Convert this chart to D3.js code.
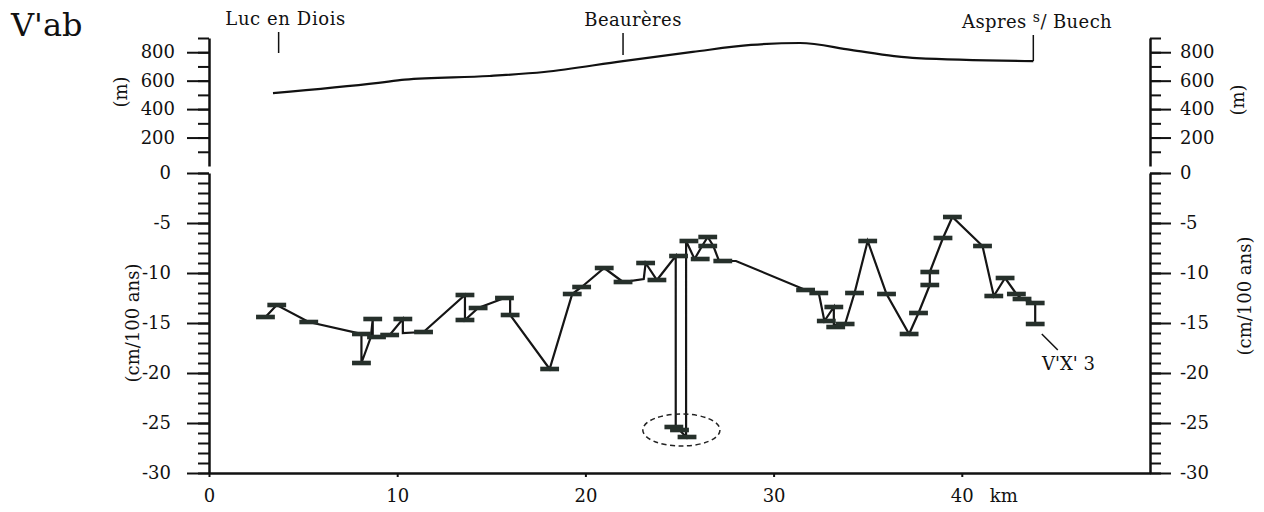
<!DOCTYPE html>
<html><head><meta charset="utf-8">
<script src="https://cdn.jsdelivr.net/npm/d3@7"></script>
<style>
html,body{margin:0;padding:0;background:#fff;}
svg{display:block;}
text{font-family:"DejaVu Serif",serif;fill:#111;}
</style></head>
<body>
<svg id="c" width="1264" height="512"></svg>
<script>
// ---- data ----
const elevKm = [3.4, 9.0, 10.4, 14.9, 17.8, 22.0, 25.7, 28.8, 31.4, 34.1, 36.4, 37.6, 43.8];
const elevM  = [513, 584, 607, 633, 661, 738, 802, 851, 865, 816, 773, 759, 738];

const townName = ["Luc en Diois", "Beaurères", "Aspres"];
const townKm   = [3.7, 22.0, 43.8];

const pathKm  = [3.0, 3.6, 5.3, 8.1, 8.1, 8.6, 8.7, 8.7, 9.6, 10.3, 10.3, 11.4, 13.6, 13.6, 14.3, 15.7, 16.0, 16.0, 18.1, 19.3, 19.8, 21.0, 22.0, 23.1, 23.2, 23.8, 24.8, 24.8, 25.0, 25.35, 25.35, 25.8, 26.2, 26.5, 26.8, 27.1, 28.0, 31.7, 32.4, 32.7, 33.2, 33.2, 33.8, 34.3, 35.0, 36.0, 37.2, 37.7, 38.3, 38.3, 39.0, 39.5, 41.1, 41.7, 42.3, 42.9, 43.2, 43.9, 43.9];
const pathVal = [-14.4, -13.2, -14.9, -16.1, -19.0, -16.4, -14.6, -16.4, -16.2, -14.6, -16.0, -15.9, -12.2, -14.7, -13.5, -12.5, -12.5, -14.2, -19.6, -12.1, -11.4, -9.5, -10.9, -10.6, -9.0, -10.7, -8.3, -25.4, -25.7, -26.4, -6.8, -8.6, -7.3, -6.4, -7.3, -8.8, -8.8, -11.7, -12.0, -14.8, -13.4, -15.2, -15.1, -12.0, -6.8, -12.1, -16.1, -14.0, -11.2, -9.9, -6.5, -4.4, -7.3, -12.3, -10.5, -12.1, -12.6, -13.0, -15.1];

const capKm  = [3.0, 3.6, 5.3, 8.1, 8.1, 8.7, 8.9, 9.6, 10.3, 11.4, 13.6, 13.6, 14.3, 15.7, 16.0, 18.1, 19.3, 19.8, 21.0, 22.0, 23.2, 23.8, 24.95, 24.7, 25.0, 25.4, 25.5, 26.5, 26.5, 26.1, 27.3, 31.7, 32.4, 32.8, 33.2, 33.3, 33.8, 34.3, 35.0, 36.0, 37.2, 37.7, 38.3, 38.3, 39.0, 39.5, 41.1, 41.7, 42.3, 42.9, 43.2, 43.9, 43.9];
const capVal = [-14.4, -13.2, -14.9, -16.1, -19.0, -14.6, -16.4, -16.2, -14.6, -15.9, -12.2, -14.7, -13.5, -12.5, -14.2, -19.6, -12.1, -11.4, -9.5, -10.9, -9.0, -10.7, -8.3, -25.4, -25.7, -26.4, -6.8, -6.4, -7.3, -8.6, -8.8, -11.7, -12.0, -14.8, -13.4, -15.4, -15.1, -12.0, -6.8, -12.1, -16.1, -14.0, -11.2, -9.9, -6.5, -4.4, -7.3, -12.3, -10.5, -12.1, -12.6, -13.0, -15.1];

const elevMinor = [100, 200, 300, 400, 500, 600, 700, 800, 900];
const elevMajor = [200, 400, 600, 800];
const velMinor = d3.range(-30, 1, 1);
const velMajor = [-30, -25, -20, -15, -10, -5, 0];
const kmTicks = [0, 10, 20, 30, 40];

// ---- scales ----
const svg = d3.select("#c");
const x  = d3.scaleLinear().domain([0, 50]).range([209, 1150]);
const yv = d3.scaleLinear().domain([-30, 0]).range([473, 173]);
const ye = d3.scaleLinear().domain([0, 900]).range([166, 38]);

const FS = 18;
function styleAxis(g, w) {
  g.selectAll("path.domain").attr("stroke", "#111").attr("stroke-width", w);
  g.selectAll(".tick line").attr("stroke", "#111").attr("stroke-width", 2);
  g.selectAll("text").attr("font-family", "DejaVu Serif").attr("font-size", FS).attr("fill", "#111");
}

// left axes
const gLe1 = svg.append("g").attr("transform", `translate(${x(0)},0)`)
  .call(d3.axisLeft(ye).tickValues(elevMinor).tickSize(11).tickSizeOuter(0).tickFormat(""));
styleAxis(gLe1, 2.5);
const gLe2 = svg.append("g").attr("transform", `translate(${x(0)},0)`)
  .call(d3.axisLeft(ye).tickValues(elevMajor).tickSize(22).tickPadding(12).tickFormat(d => String(d)));
gLe2.select("path.domain").remove(); styleAxis(gLe2, 2.5);

const gLv1 = svg.append("g").attr("transform", `translate(${x(0)},0)`)
  .call(d3.axisLeft(yv).tickValues(velMinor).tickSize(11).tickSizeOuter(0).tickFormat(""));
styleAxis(gLv1, 2.5);
const gLv2 = svg.append("g").attr("transform", `translate(${x(0)},0)`)
  .call(d3.axisLeft(yv).tickValues(velMajor).tickSize(22).tickPadding(16).tickFormat(d => String(d)));
gLv2.select("path.domain").remove(); styleAxis(gLv2, 2.5);

// right axes
const gRe1 = svg.append("g").attr("transform", `translate(${x(50)},0)`)
  .call(d3.axisRight(ye).tickValues(elevMinor).tickSize(11).tickSizeOuter(0).tickFormat(""));
styleAxis(gRe1, 2.5);
const gRe2 = svg.append("g").attr("transform", `translate(${x(50)},0)`)
  .call(d3.axisRight(ye).tickValues(elevMajor).tickSize(21).tickPadding(9).tickFormat(d => String(d)));
gRe2.select("path.domain").remove(); styleAxis(gRe2, 2.5);

const gRv1 = svg.append("g").attr("transform", `translate(${x(50)},0)`)
  .call(d3.axisRight(yv).tickValues(velMinor).tickSize(11).tickSizeOuter(0).tickFormat(""));
styleAxis(gRv1, 2.5);
const gRv2 = svg.append("g").attr("transform", `translate(${x(50)},0)`)
  .call(d3.axisRight(yv).tickValues(velMajor).tickSize(21).tickPadding(9).tickFormat(d => String(d)));
gRv2.select("path.domain").remove(); styleAxis(gRv2, 2.5);

// bottom axis
const gB = svg.append("g").attr("transform", `translate(0,${yv(-30)})`)
  .call(d3.axisBottom(x).tickValues(kmTicks).tickSize(4).tickSizeOuter(0).tickPadding(12).tickFormat(d => String(d)));
styleAxis(gB, 2.5);
svg.append("text").attr("x", x(40) + 42).attr("y", yv(-30) + 29)
  .attr("text-anchor", "middle").attr("font-size", FS).text("km");

// axis titles
function vtitle(cx, cy, t) {
  svg.append("text").attr("transform", `translate(${cx},${cy}) rotate(-90)`)
    .attr("text-anchor", "middle").attr("dy", "0.35em").attr("font-size", FS).text(t);
}
vtitle(121, 92, "(m)");
vtitle(1238, 100, "(m)");
vtitle(133, 323, "(cm/100 ans)");
vtitle(1245, 296, "(cm/100 ans)");

// title
svg.append("text").attr("x", 11).attr("y", 36).attr("font-size", 32).text("V'ab");

// elevation profile
svg.append("path")
  .datum(elevKm.map((k, i) => [k, elevM[i]]))
  .attr("fill", "none").attr("stroke", "#111").attr("stroke-width", 2.2)
  .attr("d", d3.line().x(d => x(d[0])).y(d => ye(d[1])).curve(d3.curveMonotoneX));

// town markers
const townTickTop = [32, 33, 35];
const townTickBot = [53, 55, null];
townKm.forEach((k, i) => {
  const elevHere = d3.scaleLinear().domain(elevKm).range(elevM)(k);
  svg.append("line").attr("x1", x(k)).attr("x2", x(k))
    .attr("y1", townTickTop[i]).attr("y2", townTickBot[i] === null ? ye(elevHere) : townTickBot[i])
    .attr("stroke", "#111").attr("stroke-width", 1.5);
});
svg.append("text").attr("x", x(townKm[0]) + 7).attr("y", 25).attr("text-anchor", "middle")
  .attr("font-size", FS).attr("letter-spacing", 0.6).text(townName[0]);
svg.append("text").attr("x", x(townKm[1]) + 10).attr("y", 26).attr("text-anchor", "middle")
  .attr("font-size", FS).attr("letter-spacing", 0.4).text(townName[1]);
const asp = svg.append("text").attr("x", 962).attr("y", 28)
  .attr("font-size", FS).attr("letter-spacing", 0.4);
asp.append("tspan").text(townName[2] + " ");
asp.append("tspan").attr("dy", -6).attr("font-size", 14).text("s");
asp.append("tspan").attr("dy", 6).text("/ Buech");

// velocity polyline
svg.append("path")
  .datum(pathKm.map((k, i) => [k, pathVal[i]]))
  .attr("fill", "none").attr("stroke", "#151515").attr("stroke-width", 2.2).attr("stroke-linejoin", "miter")
  .attr("d", d3.line().x(d => x(d[0])).y(d => yv(d[1])));

// caps
const capW = x(1.0) - x(0);
svg.append("g").selectAll("rect").data(capKm.map((k, i) => [k, capVal[i]])).join("rect")
  .attr("x", d => x(d[0]) - capW / 2).attr("y", d => yv(d[1]) - 2.3)
  .attr("width", capW).attr("height", 4.6).attr("fill", "#26302b");

// dashed ellipse
svg.append("ellipse").attr("cx", x(25.1)).attr("cy", yv(-25.7))
  .attr("rx", x(27.15) - x(25.1)).attr("ry", yv(-27.3) - yv(-25.7))
  .attr("fill", "none").attr("stroke", "#222").attr("stroke-width", 1.5).attr("stroke-dasharray", "5,3.5");

// V'X' 3 label
svg.append("line").attr("x1", x(44.25)).attr("y1", yv(-16.1)).attr("x2", x(45.1)).attr("y2", yv(-17.7))
  .attr("stroke", "#111").attr("stroke-width", 1.5);
svg.append("text").attr("x", 1042).attr("y", 370).attr("font-size", FS).text("V'X' 3");
</script>
</body></html>
